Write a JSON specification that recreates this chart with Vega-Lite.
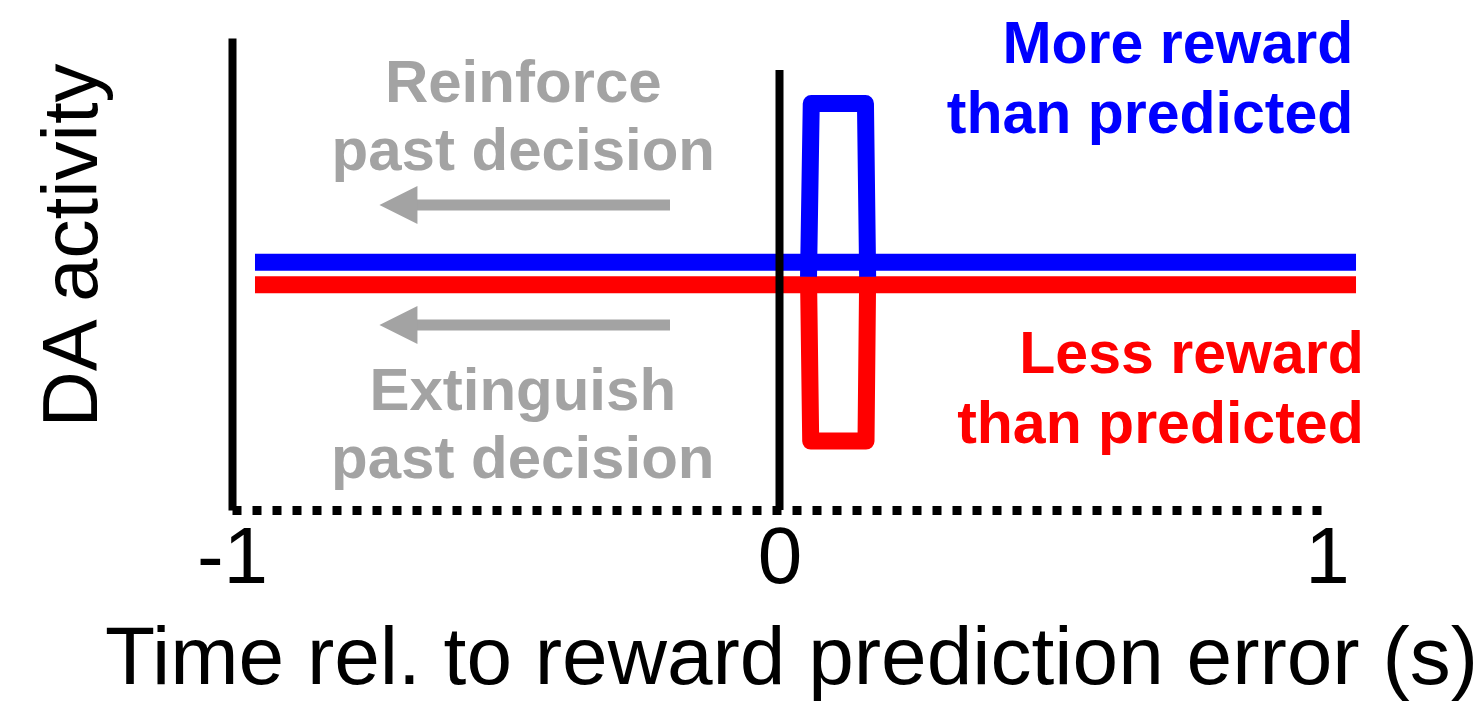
{
  "$schema": "https://vega.github.io/schema/vega-lite/v6.json",
  "width": 1095,
  "height": 472,
  "autosize": {"type": "none"},
  "padding": {"left": 232, "top": 38, "right": 154, "bottom": 193},
  "background": "white",
  "config": {
    "view": {"stroke": null},
    "font": "Liberation Sans"
  },
  "datasets": {
    "lines": [
      {"t": -0.958, "v": 0.525, "series": "More", "seg": "base", "o": 1},
      {"t": 1.053, "v": 0.525, "series": "More", "seg": "base", "o": 2},
      {"t": -0.958, "v": 0.477, "series": "Less", "seg": "base", "o": 1},
      {"t": 1.053, "v": 0.477, "series": "Less", "seg": "base", "o": 2},
      {"t": 0.053, "v": 0.494, "series": "More", "seg": "pulse", "o": 1},
      {"t": 0.058, "v": 0.861, "series": "More", "seg": "pulse", "o": 2},
      {"t": 0.157, "v": 0.861, "series": "More", "seg": "pulse", "o": 3},
      {"t": 0.161, "v": 0.494, "series": "More", "seg": "pulse", "o": 4},
      {"t": 0.053, "v": 0.494, "series": "Less", "seg": "pulse", "o": 1},
      {"t": 0.057, "v": 0.146, "series": "Less", "seg": "pulse", "o": 2},
      {"t": 0.158, "v": 0.146, "series": "Less", "seg": "pulse", "o": 3},
      {"t": 0.161, "v": 0.494, "series": "Less", "seg": "pulse", "o": 4}
    ],
    "arrows": [
      {"x1": -0.696, "x2": -0.2, "v": 0.646, "kind": "Reinforce"},
      {"x1": -0.696, "x2": -0.2, "v": 0.392, "kind": "Extinguish"}
    ],
    "greyLabels": [
      {"t": -0.468, "v": 0.864, "label": "Reinforce\npast decision"},
      {"t": -0.469, "v": 0.212, "label": "Extinguish\npast decision"}
    ],
    "colorLabels": [
      {"t": 1.048, "v": 0.947, "label": "More reward\nthan predicted", "series": "More"},
      {"t": 1.067, "v": 0.29, "label": "Less reward\nthan predicted", "series": "Less"}
    ],
    "marker": [
      {"t": 0, "v0": 0, "v1": 0.932}
    ]
  },
  "layer": [
    {
      "data": {"name": "lines"},
      "mark": {"type": "line", "strokeWidth": 17, "strokeJoin": "round", "strokeCap": "butt", "clip": false},
      "encoding": {
        "x": {
          "field": "t", "type": "quantitative",
          "scale": {"domain": [-1, 1], "nice": false, "zero": false},
          "axis": {
            "values": [-1, 0, 1],
            "labelExpr": "'' + datum.value",
            "grid": false,
            "ticks": false,
            "tickSize": 0,
            "domain": true,
            "domainColor": "black",
            "domainWidth": 9,
            "domainDash": [9, 11],
            "labelFont": "Liberation Sans",
            "labelFontSize": 80,
            "labelColor": "black",
            "labelBaseline": "alphabetic",
            "labelPadding": 72,
            "labelFlush": false,
            "labelOverlap": false,
            "title": "Time rel. to reward prediction error (s)",
            "titleFont": "Liberation Sans",
            "titleFontSize": 82,
            "titleFontWeight": "normal",
            "titleColor": "black",
            "titleBaseline": "alphabetic",
            "titleAnchor": null,
            "titleAlign": "center",
            "titleX": 559,
            "titleY": 173
          }
        },
        "y": {
          "field": "v", "type": "quantitative",
          "scale": {"domain": [0, 1], "nice": false, "zero": false},
          "axis": {
            "grid": false,
            "ticks": false,
            "labels": false,
            "domain": true,
            "domainColor": "black",
            "domainWidth": 8,
            "title": "DA activity",
            "titleFont": "Liberation Sans",
            "titleFontSize": 78,
            "titleFontWeight": "normal",
            "titleColor": "black",
            "titleAngle": -90,
            "titleBaseline": "alphabetic",
            "titleAlign": "center",
            "titleX": -136,
            "titleY": 207
          }
        },
        "color": {
          "field": "series", "type": "nominal",
          "scale": {"domain": ["More", "Less"], "range": ["#0000ff", "#ff0000"]},
          "legend": null
        },
        "detail": {"field": "seg"},
        "order": {"field": "o", "type": "quantitative"}
      }
    },
    {
      "data": {"name": "marker"},
      "mark": {"type": "rule", "color": "black", "strokeWidth": 8},
      "encoding": {
        "x": {"field": "t", "type": "quantitative"},
        "y": {"field": "v0", "type": "quantitative"},
        "y2": {"field": "v1"}
      }
    },
    {
      "data": {"name": "arrows"},
      "mark": {"type": "rule", "color": "#a3a3a3", "strokeWidth": 11},
      "encoding": {
        "x": {"field": "x1", "type": "quantitative"},
        "x2": {"field": "x2"},
        "y": {"field": "v", "type": "quantitative"}
      }
    },
    {
      "data": {"name": "arrows"},
      "mark": {"type": "point", "shape": "M1,-1L-1,0L1,1Z", "filled": true, "color": "#a3a3a3", "opacity": 1, "size": 1444},
      "encoding": {
        "x": {"field": "x1", "type": "quantitative"},
        "y": {"field": "v", "type": "quantitative"}
      }
    },
    {
      "data": {"name": "greyLabels"},
      "mark": {"type": "text", "font": "Liberation Sans", "fontWeight": "bold", "fontSize": 60, "color": "#a3a3a3", "align": "center", "baseline": "alphabetic", "lineBreak": "\n", "lineHeight": 68},
      "encoding": {
        "x": {"field": "t", "type": "quantitative"},
        "y": {"field": "v", "type": "quantitative"},
        "text": {"field": "label"}
      }
    },
    {
      "data": {"name": "colorLabels"},
      "mark": {"type": "text", "font": "Liberation Sans", "fontWeight": "bold", "fontSize": 59, "align": "right", "baseline": "alphabetic", "lineBreak": "\n", "lineHeight": 70},
      "encoding": {
        "x": {"field": "t", "type": "quantitative"},
        "y": {"field": "v", "type": "quantitative"},
        "text": {"field": "label"},
        "color": {"field": "series", "type": "nominal", "legend": null}
      }
    }
  ]
}
